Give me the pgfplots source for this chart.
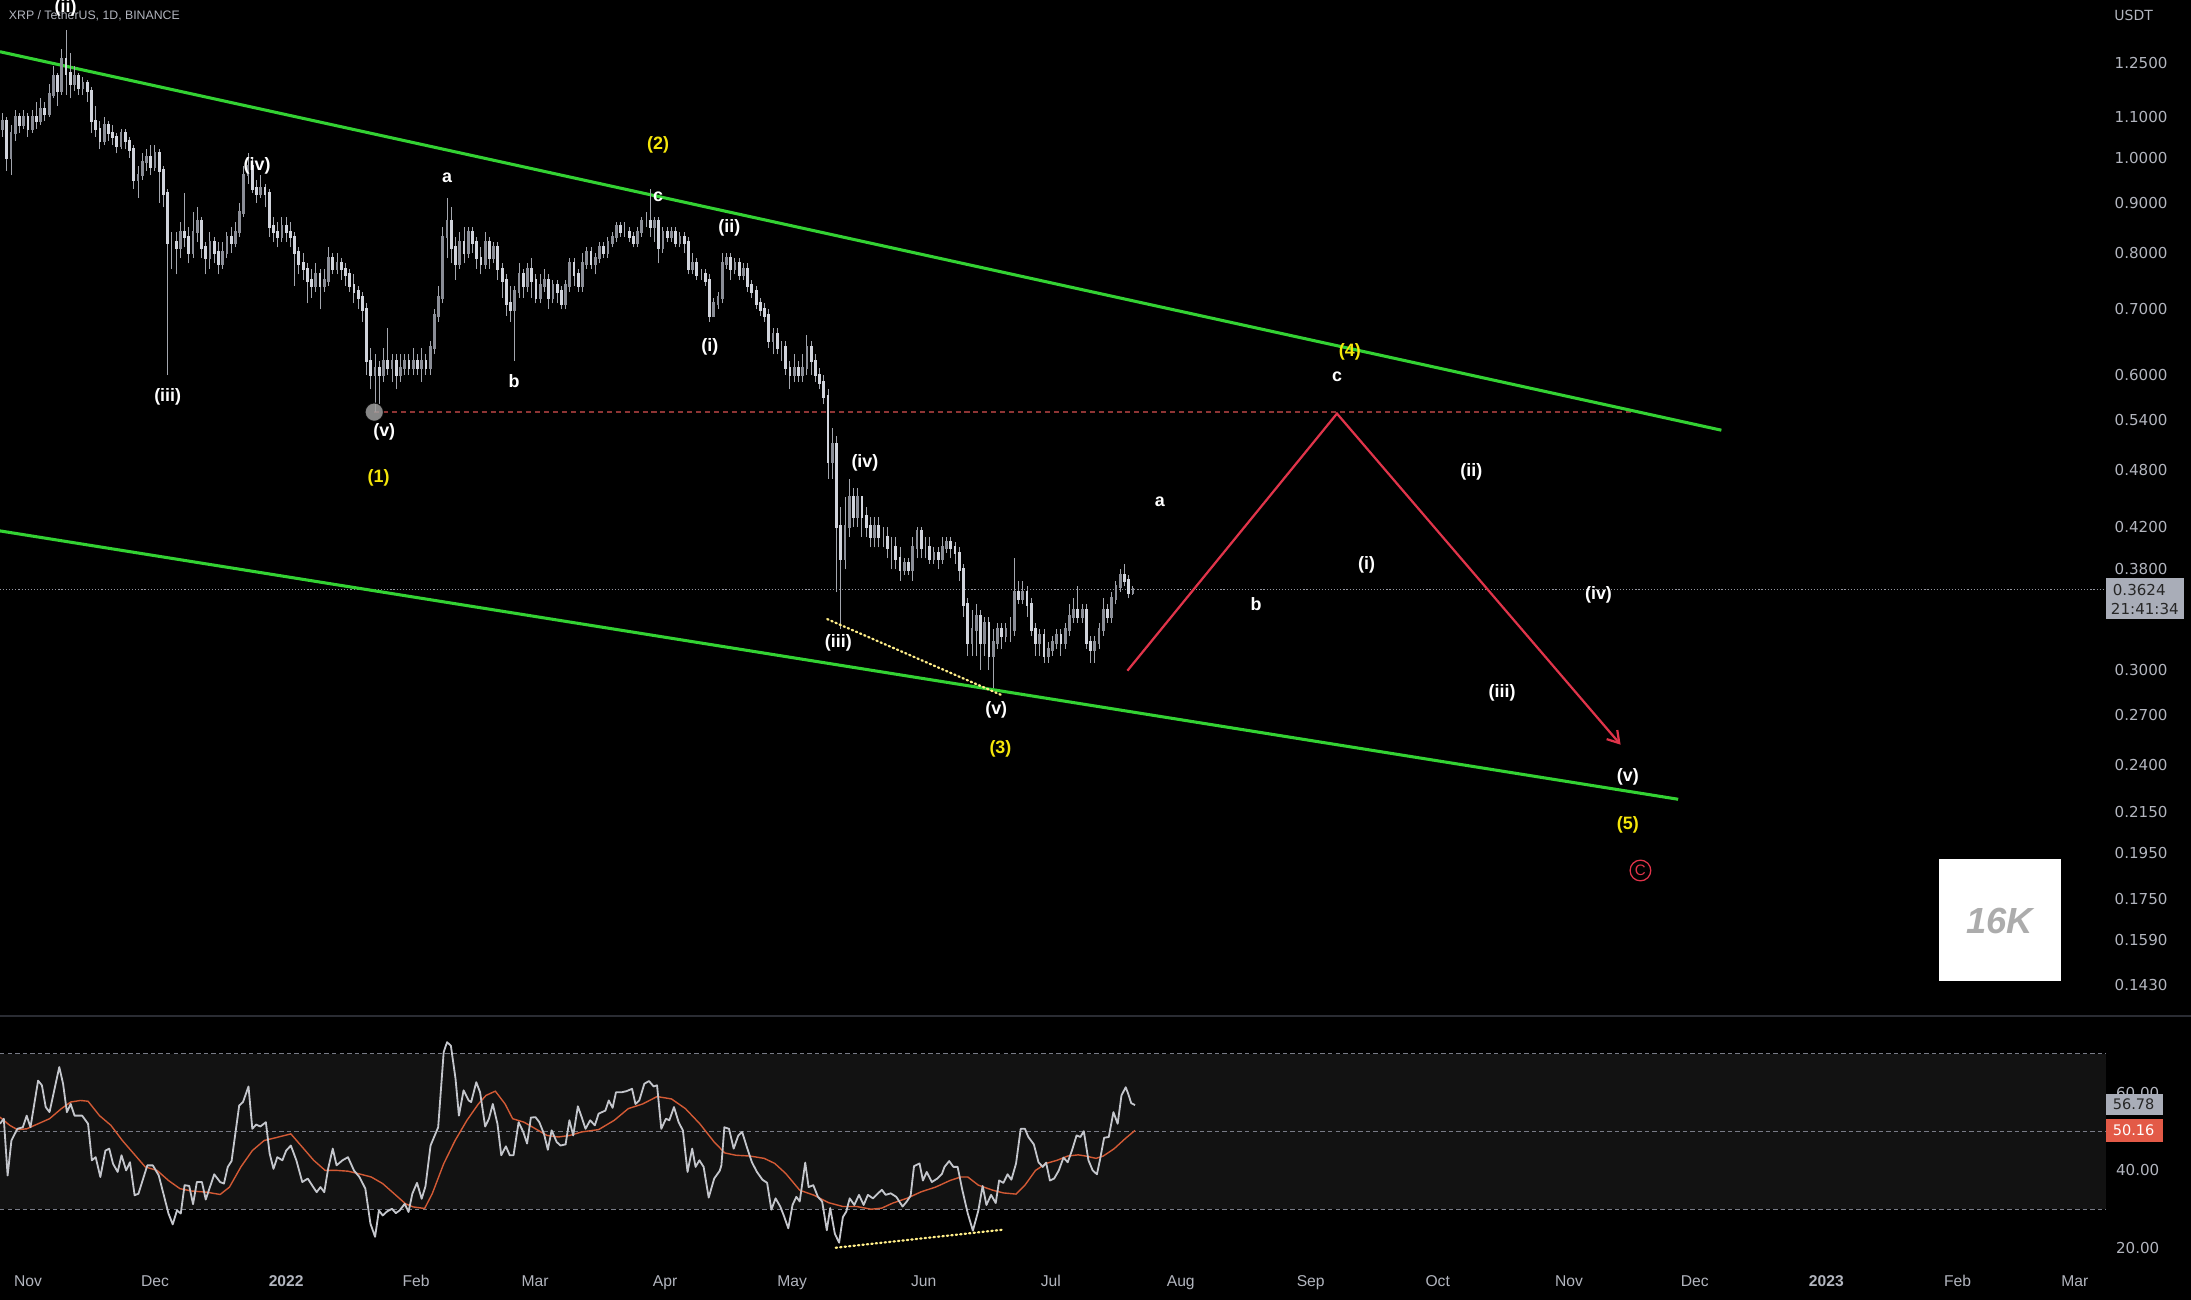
\documentclass[border=0pt]{standalone}
\usepackage{pgfplots}
\pgfplotsset{compat=1.18}
\usepackage{fontspec}
\setmainfont{Liberation Sans}
\newfontfamily\pricefont{DejaVu Sans}
\usetikzlibrary{arrows.meta}
\definecolor{band}{HTML}{121212}
\definecolor{txt}{HTML}{B2B5BE}
\definecolor{chan}{HTML}{33D233}
\definecolor{fc}{HTML}{E0344A}
\definecolor{upc}{HTML}{8A8D96}
\definecolor{dnc}{HTML}{D1D4DC}
\definecolor{wick}{HTML}{A3A6AE}
\definecolor{rsi}{HTML}{C4C6CC}
\definecolor{ma}{HTML}{D35A35}
\definecolor{wy}{HTML}{F5E60A}
\definecolor{dy}{HTML}{FFEE88}
\definecolor{resist}{HTML}{8E3434}
\definecolor{pbox}{HTML}{A9ADB8}
\definecolor{rbox}{HTML}{E35A47}
\definecolor{sepc}{HTML}{2A2C33}
\definecolor{dashc}{HTML}{787B86}
\begin{document}
\begin{tikzpicture}
\path[use as bounding box] (0,0) rectangle (784bp,465bp);
\fill[black] (0,0) rectangle (784bp,465bp);
% ================= PRICE PANEL =================
\begin{axis}[
  at={(0bp,101.5bp)}, anchor=south west,
  width=753.5bp, height=363.5bp, scale only axis,
  xmin=-6.6, xmax=490.8, ymode=log, ymin=0.1330, ymax=1.4490,
  axis line style={draw=none}, tick style={draw=none}, major tick length=0pt, minor tick length=0pt,
  xtick=\empty,
  ytick={0.143,0.159,0.175,0.195,0.215,0.24,0.27,0.3,0.38,0.42,0.48,0.54,0.6,0.7,0.8,0.9,1,1.1,1.25},
  yticklabels={0.1430,0.1590,0.1750,0.1950,0.2150,0.2400,0.2700,0.3000,0.3800,0.4200,0.4800,0.5400,0.6000,0.7000,0.8000,0.9000,1.0000,1.1000,1.2500},
  yticklabel pos=right,
  yticklabel style={anchor=west, xshift=3bp, inner sep=0pt, font=\pricefont\fontsize{5.4bp}{6bp}\selectfont, text=txt},
  unbounded coords=jump,
]
% current price dotted line
\addplot[color=dashc!80!white, line width=0.4bp, dash pattern=on 0.4bp off 0.7bp] coordinates {(-6.6,0.3624)(490.8,0.3624)};
% resistance dashed
\addplot[resist, line width=0.5bp, dash pattern=on 1.8bp off 1.4bp] coordinates {(81.8,0.5499)(379.5,0.5499)};
% channel
\addplot[chan, line width=1.1bp] coordinates {(-6.6,1.283)(400,0.527)};
\addplot[chan, line width=1.1bp] coordinates {(-6.6,0.4159)(389.8,0.2213)};
% wicks
\addplot[wick, line width=0.35bp] coordinates {
(-6,1.05)(-6,1.11)(-6,nan)(-5,0.97)(-5,1.10)(-5,nan)(-4,0.96)(-4,1.08)(-4,nan)(-3,1.04)(-3,1.12)(-3,nan)(-2,1.06)(-2,1.11)(-2,nan)(-1,1.07)(-1,1.12)(-1,nan)
(0,1.05)(0,1.11)(0,nan)(1,1.06)(1,1.12)(1,nan)(2,1.07)(2,1.14)(2,nan)(3,1.08)(3,1.15)(3,nan)(4,1.09)(4,1.14)(4,nan)(5,1.10)(5,1.19)(5,nan)(6,1.15)(6,1.24)(6,nan)(7,1.13)(7,1.22)(7,nan)(8,1.16)(8,1.29)(8,nan)(9,1.16)(9,1.35)(9,nan)
(10,1.15)(10,1.28)(10,nan)(11,1.17)(11,1.24)(11,nan)(12,1.16)(12,1.22)(12,nan)(13,1.16)(13,1.21)(13,nan)(14,1.14)(14,1.20)(14,nan)(15,1.06)(15,1.18)(15,nan)(16,1.05)(16,1.13)(16,nan)(17,1.02)(17,1.09)(17,nan)(18,1.03)(18,1.10)(18,nan)(19,1.04)(19,1.09)(19,nan)
(20,1.03)(20,1.08)(20,nan)(21,1.01)(21,1.06)(21,nan)(22,1.02)(22,1.07)(22,nan)(23,1.02)(23,1.07)(23,nan)(24,1.00)(24,1.05)(24,nan)(25,0.93)(25,1.03)(25,nan)(26,0.91)(26,0.98)(26,nan)(27,0.95)(27,1.01)(27,nan)(28,0.97)(28,1.02)(28,nan)(29,0.96)(29,1.03)(29,nan)
(30,0.97)(30,1.03)(30,nan)(31,0.90)(31,1.02)(31,nan)(32,0.89)(32,0.98)(32,nan)(33,0.60)(33,0.93)(33,nan)(34,0.77)(34,0.84)(34,nan)(35,0.76)(35,0.84)(35,nan)(36,0.79)(36,0.86)(36,nan)(37,0.81)(37,0.92)(37,nan)(38,0.78)(38,0.85)(38,nan)(39,0.79)(39,0.88)(39,nan)
(40,0.82)(40,0.89)(40,nan)(41,0.79)(41,0.87)(41,nan)(42,0.76)(42,0.82)(42,nan)(43,0.77)(43,0.84)(43,nan)(44,0.78)(44,0.83)(44,nan)(45,0.76)(45,0.82)(45,nan)(46,0.77)(46,0.82)(46,nan)(47,0.79)(47,0.84)(47,nan)(48,0.80)(48,0.85)(48,nan)(49,0.81)(49,0.86)(49,nan)
(50,0.83)(50,0.90)(50,nan)(51,0.87)(51,0.98)(51,nan)(52,0.94)(52,1.01)(52,nan)(53,0.92)(53,1.00)(53,nan)(54,0.90)(54,0.95)(54,nan)(55,0.91)(55,0.96)(55,nan)(56,0.89)(56,0.94)(56,nan)(57,0.83)(57,0.93)(57,nan)(58,0.82)(58,0.87)(58,nan)(59,0.81)(59,0.86)(59,nan)
(60,0.82)(60,0.87)(60,nan)(61,0.82)(61,0.87)(61,nan)(62,0.81)(62,0.86)(62,nan)(63,0.74)(63,0.84)(63,nan)(64,0.76)(64,0.81)(64,nan)(65,0.75)(65,0.80)(65,nan)(66,0.71)(66,0.78)(66,nan)(67,0.72)(67,0.77)(67,nan)(68,0.73)(68,0.78)(68,nan)(69,0.70)(69,0.77)(69,nan)
(70,0.73)(70,0.77)(70,nan)(71,0.74)(71,0.81)(71,nan)(72,0.76)(72,0.80)(72,nan)(73,0.76)(73,0.80)(73,nan)(74,0.75)(74,0.79)(74,nan)(75,0.74)(75,0.78)(75,nan)(76,0.73)(76,0.77)(76,nan)(77,0.71)(77,0.76)(77,nan)(78,0.70)(78,0.74)(78,nan)(79,0.68)(79,0.73)(79,nan)
(80,0.60)(80,0.71)(80,nan)(81,0.58)(81,0.64)(81,nan)(82,0.55)(82,0.63)(82,nan)(83,0.56)(83,0.62)(83,nan)(84,0.59)(84,0.64)(84,nan)(85,0.60)(85,0.67)(85,nan)(86,0.59)(86,0.63)(86,nan)(87,0.58)(87,0.63)(87,nan)(88,0.59)(88,0.63)(88,nan)(89,0.60)(89,0.63)(89,nan)
(90,0.60)(90,0.63)(90,nan)(91,0.60)(91,0.64)(91,nan)(92,0.60)(92,0.63)(92,nan)(93,0.59)(93,0.64)(93,nan)(94,0.60)(94,0.63)(94,nan)(95,0.60)(95,0.65)(95,nan)(96,0.63)(96,0.70)(96,nan)(97,0.68)(97,0.74)(97,nan)(98,0.71)(98,0.85)(98,nan)(99,0.79)(99,0.91)(99,nan)
(100,0.78)(100,0.89)(100,nan)(101,0.75)(101,0.83)(101,nan)(102,0.77)(102,0.84)(102,nan)(103,0.78)(103,0.85)(103,nan)(104,0.79)(104,0.85)(104,nan)(105,0.80)(105,0.85)(105,nan)(106,0.77)(106,0.83)(106,nan)(107,0.76)(107,0.81)(107,nan)(108,0.77)(108,0.84)(108,nan)(109,0.77)(109,0.83)(109,nan)
(110,0.78)(110,0.82)(110,nan)(111,0.75)(111,0.82)(111,nan)(112,0.72)(112,0.78)(112,nan)(113,0.69)(113,0.76)(113,nan)(114,0.68)(114,0.74)(114,nan)(115,0.62)(115,0.74)(115,nan)(116,0.72)(116,0.78)(116,nan)(117,0.72)(117,0.77)(117,nan)(118,0.73)(118,0.78)(118,nan)(119,0.72)(119,0.79)(119,nan)
(120,0.71)(120,0.76)(120,nan)(121,0.71)(121,0.76)(121,nan)(122,0.73)(122,0.77)(122,nan)(123,0.70)(123,0.76)(123,nan)(124,0.71)(124,0.75)(124,nan)(125,0.71)(125,0.75)(125,nan)(126,0.70)(126,0.74)(126,nan)(127,0.70)(127,0.75)(127,nan)(128,0.73)(128,0.79)(128,nan)(129,0.74)(129,0.79)(129,nan)
(130,0.73)(130,0.77)(130,nan)(131,0.73)(131,0.80)(131,nan)(132,0.77)(132,0.81)(132,nan)(133,0.77)(133,0.81)(133,nan)(134,0.76)(134,0.80)(134,nan)(135,0.78)(135,0.82)(135,nan)(136,0.79)(136,0.82)(136,nan)(137,0.79)(137,0.83)(137,nan)(138,0.81)(138,0.84)(138,nan)(139,0.82)(139,0.86)(139,nan)
(140,0.83)(140,0.86)(140,nan)(141,0.83)(141,0.86)(141,nan)(142,0.82)(142,0.85)(142,nan)(143,0.81)(143,0.84)(143,nan)(144,0.81)(144,0.85)(144,nan)(145,0.83)(145,0.87)(145,nan)(146,0.85)(146,0.88)(146,nan)(147,0.83)(147,0.93)(147,nan)(148,0.82)(148,0.87)(148,nan)(149,0.78)(149,0.87)(149,nan)
(150,0.80)(150,0.85)(150,nan)(151,0.82)(151,0.85)(151,nan)(152,0.82)(152,0.85)(152,nan)(153,0.81)(153,0.85)(153,nan)(154,0.81)(154,0.84)(154,nan)(155,0.80)(155,0.84)(155,nan)(156,0.76)(156,0.83)(156,nan)(157,0.76)(157,0.80)(157,nan)(158,0.75)(158,0.79)(158,nan)(159,0.75)(159,0.77)(159,nan)
(160,0.74)(160,0.77)(160,nan)(161,0.68)(161,0.76)(161,nan)(162,0.69)(162,0.72)(162,nan)(163,0.70)(163,0.73)(163,nan)(164,0.71)(164,0.80)(164,nan)(165,0.77)(165,0.80)(165,nan)(166,0.75)(166,0.80)(166,nan)(167,0.76)(167,0.79)(167,nan)(168,0.75)(168,0.79)(168,nan)(169,0.75)(169,0.78)(169,nan)
(170,0.73)(170,0.78)(170,nan)(171,0.72)(171,0.75)(171,nan)(172,0.70)(172,0.74)(172,nan)(173,0.69)(173,0.72)(173,nan)(174,0.68)(174,0.71)(174,nan)(175,0.64)(175,0.70)(175,nan)(176,0.63)(176,0.67)(176,nan)(177,0.63)(177,0.67)(177,nan)(178,0.62)(178,0.65)(178,nan)(179,0.60)(179,0.65)(179,nan)
(180,0.58)(180,0.62)(180,nan)(181,0.59)(181,0.63)(181,nan)(182,0.59)(182,0.62)(182,nan)(183,0.59)(183,0.63)(183,nan)(184,0.60)(184,0.66)(184,nan)(185,0.60)(185,0.65)(185,nan)(186,0.59)(186,0.63)(186,nan)(187,0.58)(187,0.61)(187,nan)(188,0.56)(188,0.60)(188,nan)(189,0.47)(189,0.58)(189,nan)
(190,0.47)(190,0.53)(190,nan)(191,0.36)(191,0.52)(191,nan)(192,0.33)(192,0.44)(192,nan)(193,0.38)(193,0.45)(193,nan)(194,0.41)(194,0.47)(194,nan)(195,0.42)(195,0.46)(195,nan)(196,0.42)(196,0.46)(196,nan)(197,0.41)(197,0.45)(197,nan)(198,0.41)(198,0.44)(198,nan)(199,0.40)(199,0.43)(199,nan)
(200,0.40)(200,0.43)(200,nan)(201,0.40)(201,0.43)(201,nan)(202,0.40)(202,0.42)(202,nan)(203,0.39)(203,0.42)(203,nan)(204,0.38)(204,0.41)(204,nan)(205,0.38)(205,0.41)(205,nan)(206,0.37)(206,0.40)(206,nan)(207,0.375)(207,0.39)(207,nan)(208,0.375)(208,0.39)(208,nan)(209,0.37)(209,0.41)(209,nan)
(210,0.39)(210,0.42)(210,nan)(211,0.39)(211,0.42)(211,nan)(212,0.39)(212,0.41)(212,nan)(213,0.385)(213,0.41)(213,nan)(214,0.385)(214,0.40)(214,nan)(215,0.38)(215,0.40)(215,nan)(216,0.385)(216,0.41)(216,nan)(217,0.395)(217,0.41)(217,nan)(218,0.39)(218,0.41)(218,nan)(219,0.385)(219,0.405)(219,nan)
(220,0.37)(220,0.40)(220,nan)(221,0.34)(221,0.385)(221,nan)(222,0.31)(222,0.355)(222,nan)(223,0.31)(223,0.345)(223,nan)(224,0.31)(224,0.35)(224,nan)(225,0.30)(225,0.345)(225,nan)(226,0.31)(226,0.34)(226,nan)(227,0.30)(227,0.34)(227,nan)(228,0.2875)(228,0.33)(228,nan)(229,0.315)(229,0.335)(229,nan)
(230,0.315)(230,0.335)(230,nan)(231,0.32)(231,0.335)(231,nan)(232,0.32)(232,0.34)(232,nan)(233,0.325)(233,0.39)(233,nan)(234,0.35)(234,0.37)(234,nan)(235,0.35)(235,0.37)(235,nan)(236,0.34)(236,0.365)(236,nan)(237,0.325)(237,0.355)(237,nan)(238,0.31)(238,0.335)(238,nan)(239,0.31)(239,0.33)(239,nan)
(240,0.305)(240,0.33)(240,nan)(241,0.305)(241,0.32)(241,nan)(242,0.31)(242,0.325)(242,nan)(243,0.315)(243,0.33)(243,nan)(244,0.31)(244,0.33)(244,nan)(245,0.315)(245,0.335)(245,nan)(246,0.325)(246,0.35)(246,nan)(247,0.335)(247,0.355)(247,nan)(248,0.335)(248,0.365)(248,nan)(249,0.335)(249,0.35)(249,nan)
(250,0.315)(250,0.35)(250,nan)(251,0.305)(251,0.325)(251,nan)(252,0.305)(252,0.325)(252,nan)(253,0.315)(253,0.335)(253,nan)(254,0.325)(254,0.355)(254,nan)(255,0.335)(255,0.35)(255,nan)(256,0.335)(256,0.36)(256,nan)(257,0.35)(257,0.37)(257,nan)(258,0.36)(258,0.38)(258,nan)(259,0.365)(259,0.385)(259,nan)
(260,0.355)(260,0.375)(260,nan)(261,0.358)(261,0.365)
};
% up bodies
\addplot[upc, line width=1.0bp, line cap=rect] coordinates {
(-6,1.07)(-6,1.09)(-6,nan)(-4,1.00)(-4,1.06)(-4,nan)(-3,1.06)(-3,1.10)(-3,nan)(-1,1.08)(-1,1.10)(-1,nan)(1,1.07)(1,1.10)(1,nan)(3,1.09)(3,1.12)(3,nan)(5,1.11)(5,1.16)(5,nan)(6,1.16)(6,1.21)(6,nan)(8,1.17)(8,1.26)(8,nan)(11,1.19)(11,1.21)(11,nan)(13,1.18)(13,1.19)(13,nan)
(18,1.04)(18,1.08)(18,nan)(22,1.03)(22,1.06)(22,nan)(26,0.95)(26,0.96)(26,nan)(27,0.96)(27,0.99)(27,nan)(28,0.99)(28,1.00)(28,nan)(30,0.98)(30,1.01)(30,nan)(36,0.81)(36,0.84)(36,nan)(39,0.80)(39,0.84)(39,nan)(40,0.84)(40,0.86)(40,nan)(43,0.79)(43,0.82)(43,nan)
(46,0.78)(46,0.80)(46,nan)(47,0.80)(47,0.83)(47,nan)(49,0.82)(49,0.84)(49,nan)(50,0.84)(50,0.88)(50,nan)(51,0.88)(51,0.96)(51,nan)(52,0.96)(52,0.98)(52,nan)(55,0.92)(55,0.93)(55,nan)(60,0.83)(60,0.85)(60,nan)(68,0.74)(68,0.76)(68,nan)(70,0.74)(70,0.75)(70,nan)
(71,0.75)(71,0.79)(71,nan)(73,0.77)(73,0.78)(73,nan)(82,0.60)(82,0.61)(82,nan)(84,0.60)(84,0.62)(84,nan)(86,0.61)(86,0.62)(86,nan)(88,0.60)(88,0.61)(88,nan)(89,0.61)(89,0.62)(89,nan)(91,0.61)(91,0.62)(91,nan)(93,0.61)(93,0.62)(93,nan)(95,0.61)(95,0.64)(95,nan)
(96,0.64)(96,0.69)(96,nan)(97,0.69)(97,0.72)(97,nan)(98,0.72)(98,0.83)(98,nan)(99,0.83)(99,0.86)(99,nan)(102,0.78)(102,0.82)(102,nan)(104,0.80)(104,0.84)(104,nan)(108,0.78)(108,0.82)(108,nan)(110,0.79)(110,0.81)(110,nan)(115,0.70)(115,0.73)(115,nan)(116,0.73)(116,0.76)(116,nan)
(118,0.74)(118,0.77)(118,nan)(121,0.72)(121,0.74)(121,nan)(122,0.74)(122,0.75)(122,nan)(124,0.72)(124,0.74)(124,nan)(127,0.71)(127,0.74)(127,nan)(128,0.74)(128,0.78)(128,nan)(131,0.74)(131,0.78)(131,nan)(132,0.78)(132,0.80)(132,nan)(134,0.78)(134,0.79)(134,nan)(135,0.79)(135,0.81)(135,nan)
(137,0.80)(137,0.82)(137,nan)(138,0.82)(138,0.83)(138,nan)(139,0.83)(139,0.85)(139,nan)(144,0.82)(144,0.84)(144,nan)(145,0.84)(145,0.86)(145,nan)(148,0.85)(148,0.86)(148,nan)(150,0.81)(150,0.84)(150,nan)(152,0.83)(152,0.84)(152,nan)(154,0.82)(154,0.83)(154,nan)(157,0.77)(157,0.78)(157,nan)
(162,0.69)(162,0.71)(162,nan)(163,0.71)(163,0.72)(163,nan)(164,0.72)(164,0.78)(164,nan)(165,0.78)(165,0.79)(165,nan)(167,0.77)(167,0.78)(167,nan)(169,0.76)(169,0.77)(169,nan)(176,0.65)(176,0.66)(176,nan)(181,0.60)(181,0.61)(181,nan)(183,0.60)(183,0.61)(183,nan)(184,0.61)(184,0.64)(184,nan)
(190,0.49)(190,0.51)(190,nan)(193,0.39)(193,0.42)(193,nan)(194,0.42)(194,0.45)(194,nan)(196,0.43)(196,0.45)(196,nan)(200,0.41)(200,0.42)(200,nan)(207,0.38)(207,0.385)(207,nan)(209,0.38)(209,0.40)(209,nan)(210,0.40)(210,0.415)(210,nan)(214,0.39)(214,0.395)(214,nan)(216,0.39)(216,0.40)(216,nan)
(217,0.40)(217,0.405)(217,nan)(223,0.32)(223,0.33)(223,nan)(224,0.33)(224,0.34)(224,nan)(226,0.32)(226,0.335)(226,nan)(228,0.31)(228,0.32)(228,nan)(229,0.32)(229,0.33)(229,nan)(231,0.325)(231,0.33)(231,nan)(233,0.33)(233,0.36)(233,nan)(235,0.355)(235,0.36)(235,nan)(239,0.32)(239,0.325)(239,nan)
(241,0.31)(241,0.315)(241,nan)(242,0.315)(242,0.32)(242,nan)(243,0.32)(243,0.325)(243,nan)(245,0.32)(245,0.33)(245,nan)(246,0.33)(246,0.34)(246,nan)(247,0.34)(247,0.345)(247,nan)(249,0.34)(249,0.345)(249,nan)(252,0.315)(252,0.32)(252,nan)(253,0.32)(253,0.33)(253,nan)(254,0.33)(254,0.345)(254,nan)
(256,0.34)(256,0.355)(256,nan)(257,0.355)(257,0.365)(257,nan)(258,0.365)(258,0.375)(258,nan)(261,0.36)(261,0.3624)
};
% down bodies
\addplot[dnc, line width=1.0bp, line cap=rect] coordinates {
(-5,1.09)(-5,1.00)(-5,nan)(-2,1.10)(-2,1.08)(-2,nan)(0,1.10)(0,1.07)(0,nan)(2,1.10)(2,1.09)(2,nan)(4,1.12)(4,1.11)(4,nan)(7,1.21)(7,1.17)(7,nan)(9,1.26)(9,1.22)(9,nan)(10,1.22)(10,1.19)(10,nan)(12,1.21)(12,1.18)(12,nan)(14,1.19)(14,1.17)(14,nan)
(15,1.17)(15,1.09)(15,nan)(16,1.09)(16,1.07)(16,nan)(17,1.07)(17,1.04)(17,nan)(19,1.08)(19,1.06)(19,nan)(20,1.06)(20,1.05)(20,nan)(21,1.05)(21,1.03)(21,nan)(23,1.06)(23,1.04)(23,nan)(24,1.04)(24,1.02)(24,nan)(25,1.02)(25,0.95)(25,nan)(29,1.00)(29,0.98)(29,nan)
(31,1.01)(31,0.97)(31,nan)(32,0.97)(32,0.92)(32,nan)(33,0.92)(33,0.82)(33,nan)(34,0.82)(34,0.82)(34,nan)(35,0.82)(35,0.81)(35,nan)(37,0.84)(37,0.83)(37,nan)(38,0.83)(38,0.80)(38,nan)(41,0.86)(41,0.81)(41,nan)(42,0.81)(42,0.79)(42,nan)(44,0.82)(44,0.80)(44,nan)
(45,0.80)(45,0.78)(45,nan)(48,0.83)(48,0.82)(48,nan)(53,0.98)(53,0.93)(53,nan)(54,0.93)(54,0.92)(54,nan)(56,0.93)(56,0.92)(56,nan)(57,0.92)(57,0.85)(57,nan)(58,0.85)(58,0.84)(58,nan)(59,0.84)(59,0.83)(59,nan)(61,0.85)(61,0.84)(61,nan)(62,0.84)(62,0.83)(62,nan)
(63,0.83)(63,0.80)(63,nan)(64,0.80)(64,0.78)(64,nan)(65,0.78)(65,0.77)(65,nan)(66,0.77)(66,0.75)(66,nan)(67,0.75)(67,0.74)(67,nan)(69,0.76)(69,0.74)(69,nan)(72,0.79)(72,0.77)(72,nan)(74,0.78)(74,0.77)(74,nan)(75,0.77)(75,0.76)(75,nan)(76,0.76)(76,0.74)(76,nan)
(77,0.74)(77,0.73)(77,nan)(78,0.73)(78,0.72)(78,nan)(79,0.72)(79,0.70)(79,nan)(80,0.70)(80,0.62)(80,nan)(81,0.62)(81,0.60)(81,nan)(83,0.61)(83,0.60)(83,nan)(85,0.62)(85,0.61)(85,nan)(87,0.62)(87,0.60)(87,nan)(90,0.62)(90,0.61)(90,nan)(92,0.62)(92,0.61)(92,nan)
(94,0.62)(94,0.61)(94,nan)(100,0.86)(100,0.81)(100,nan)(101,0.81)(101,0.78)(101,nan)(103,0.82)(103,0.80)(103,nan)(105,0.84)(105,0.82)(105,nan)(106,0.82)(106,0.79)(106,nan)(107,0.79)(107,0.78)(107,nan)(109,0.82)(109,0.79)(109,nan)(111,0.81)(111,0.77)(111,nan)(112,0.77)(112,0.75)(112,nan)
(113,0.75)(113,0.71)(113,nan)(114,0.71)(114,0.70)(114,nan)(117,0.76)(117,0.74)(117,nan)(119,0.77)(119,0.75)(119,nan)(120,0.75)(120,0.72)(120,nan)(123,0.75)(123,0.72)(123,nan)(125,0.74)(125,0.73)(125,nan)(126,0.73)(126,0.71)(126,nan)(129,0.78)(129,0.76)(129,nan)(130,0.76)(130,0.74)(130,nan)
(133,0.80)(133,0.78)(133,nan)(136,0.81)(136,0.80)(136,nan)(140,0.85)(140,0.84)(140,nan)(141,0.84)(141,0.84)(141,nan)(142,0.84)(142,0.83)(142,nan)(143,0.83)(143,0.82)(143,nan)(146,0.86)(146,0.86)(146,nan)(147,0.86)(147,0.85)(147,nan)(149,0.86)(149,0.81)(149,nan)(151,0.84)(151,0.83)(151,nan)
(153,0.84)(153,0.82)(153,nan)(155,0.83)(155,0.82)(155,nan)(156,0.82)(156,0.77)(156,nan)(158,0.78)(158,0.76)(158,nan)(159,0.76)(159,0.76)(159,nan)(160,0.76)(160,0.75)(160,nan)(161,0.75)(161,0.69)(161,nan)(166,0.79)(166,0.77)(166,nan)(168,0.78)(168,0.76)(168,nan)(170,0.77)(170,0.74)(170,nan)
(171,0.74)(171,0.73)(171,nan)(172,0.73)(172,0.71)(172,nan)(173,0.71)(173,0.70)(173,nan)(174,0.70)(174,0.69)(174,nan)(175,0.69)(175,0.65)(175,nan)(177,0.66)(177,0.64)(177,nan)(178,0.64)(178,0.64)(178,nan)(179,0.64)(179,0.61)(179,nan)(180,0.61)(180,0.60)(180,nan)(182,0.61)(182,0.60)(182,nan)
(185,0.64)(185,0.62)(185,nan)(186,0.62)(186,0.60)(186,nan)(187,0.60)(187,0.59)(187,nan)(188,0.59)(188,0.57)(188,nan)(189,0.57)(189,0.49)(189,nan)(191,0.51)(191,0.42)(191,nan)(192,0.42)(192,0.39)(192,nan)(195,0.45)(195,0.43)(195,nan)(197,0.45)(197,0.43)(197,nan)(198,0.43)(198,0.42)(198,nan)
(199,0.42)(199,0.41)(199,nan)(201,0.42)(201,0.41)(201,nan)(202,0.41)(202,0.41)(202,nan)(203,0.41)(203,0.40)(203,nan)(204,0.40)(204,0.40)(204,nan)(205,0.40)(205,0.39)(205,nan)(206,0.39)(206,0.38)(206,nan)(208,0.385)(208,0.38)(208,nan)(211,0.415)(211,0.40)(211,nan)(212,0.40)(212,0.40)(212,nan)
(213,0.40)(213,0.39)(213,nan)(215,0.395)(215,0.39)(215,nan)(218,0.405)(218,0.40)(218,nan)(219,0.40)(219,0.395)(219,nan)(220,0.395)(220,0.38)(220,nan)(221,0.38)(221,0.35)(221,nan)(222,0.35)(222,0.32)(222,nan)(225,0.34)(225,0.32)(225,nan)(227,0.335)(227,0.31)(227,nan)(230,0.33)(230,0.325)(230,nan)
(232,0.33)(232,0.33)(232,nan)(234,0.36)(234,0.355)(234,nan)(236,0.36)(236,0.35)(236,nan)(237,0.35)(237,0.33)(237,nan)(238,0.33)(238,0.32)(238,nan)(240,0.325)(240,0.31)(240,nan)(244,0.325)(244,0.32)(244,nan)(248,0.345)(248,0.34)(248,nan)(250,0.345)(250,0.32)(250,nan)(251,0.32)(251,0.315)(251,nan)
(255,0.345)(255,0.34)(255,nan)(259,0.375)(259,0.37)(259,nan)(260,0.37)(260,0.36)
};
% marker circle at wave (1) low
\addplot[only marks, mark=*, mark size=3.3bp, mark options={fill=gray!75, draw=none, opacity=0.85}] coordinates {(81.8,0.5499)};
% yellow dotted divergence line
\addplot[dy, line width=0.8bp, dash pattern=on 0.5bp off 1.1bp, line cap=round] coordinates {(188.8,0.338)(230.4,0.2822)};
% forecast path
\addplot[fc, line width=0.8bp, -{Straight Barb[length=4bp,width=5bp]}] coordinates {(259.7,0.2994)(309.2,0.548)(376.2,0.2516)};
\end{axis}
% ================= RSI PANEL =================
\begin{axis}[
  at={(0bp,12.5bp)}, anchor=south west,
  width=753.5bp, height=88.5bp, scale only axis,
  xmin=-6.6, xmax=490.8, ymin=15.76, ymax=79.42,
  axis line style={draw=none}, tick style={draw=none}, major tick length=0pt,
  ytick={20,40,60}, yticklabels={20.00,40.00,60.00},
  yticklabel pos=right,
  yticklabel style={anchor=west, xshift=3.5bp, inner sep=0pt, font=\pricefont\fontsize{5.4bp}{6bp}\selectfont, text=txt},
  xtick={0,30,61,91.7,119.8,150.5,180.5,211.6,241.6,272.3,303,333,364,393.7,424.8,455.8,483.5},
  xticklabels={Nov,Dec,\textbf{2022},Feb,Mar,Apr,May,Jun,Jul,Aug,Sep,Oct,Nov,Dec,\textbf{2023},Feb,Mar},
  xticklabel style={anchor=base, yshift=-7.8bp, inner sep=0pt, font=\fontsize{5.6bp}{6bp}\selectfont, text=txt},
]
\addplot[draw=none, fill=band] coordinates {(-6.6,30)(490.8,30)(490.8,70)(-6.6,70)} -- cycle;
\addplot[dashc, line width=0.45bp, dash pattern=on 1.6bp off 1.1bp] coordinates {(-6.6,70)(490.8,70)};
\addplot[dashc, line width=0.45bp, dash pattern=on 1.6bp off 1.1bp] coordinates {(-6.6,50)(490.8,50)};
\addplot[dashc, line width=0.45bp, dash pattern=on 1.6bp off 1.1bp] coordinates {(-6.6,30)(490.8,30)};
% RSI MA
\addplot[ma, line width=0.5bp] coordinates {
(-6.6,53.7)(-4.3,51.6)(-2.5,50.5)(-0.3,50.7)(2.4,52)(5.1,53.3)(7.9,55.9)(10.1,57.6)(12.4,58)(14.2,57.8)(16.9,54.1)(19.6,51.6)(22.3,47.7)(25,44.3)(27.7,40.9)(30.5,40)(33.2,37.4)(35.9,35.3)(38.6,34.7)(42.2,34.4)(45.4,33.8)(47.6,35.7)(50.3,40.9)(53,45.1)(55.8,47.7)(58.5,48.4)(62.1,49.4)(64.8,46)(67.5,42.6)(70.2,40)(72.9,40)(75.6,39.8)(78.3,39.1)(81.1,38.3)(83.8,36.6)(86.5,34)(89.2,31.4)(91,30.6)(93.7,30.2)(95.5,34)(98.2,41.7)(100.9,47.7)(103.7,52.9)(106.4,57.1)(108.2,59.3)(110.4,60.4)(112.7,57.1)(114.5,53.3)(117.2,52.4)(119.9,50.7)(122.6,49)(125.3,48.6)(128,49)(130.8,49.9)(134.8,50.5)(138.5,52.9)(141.8,55.9)(145.2,57.1)(148.6,59)(152,58.4)(155.3,55.9)(158.7,52)(162.1,47.3)(164.6,44.5)(167.2,43.9)(170.5,43.7)(173.9,43.1)(176.4,41.8)(179,39.2)(182.3,34.9)(185.7,33.6)(189.1,31.7)(192.5,30.7)(195.8,30.7)(199.2,30)(201.7,30.3)(204.3,31.6)(207.6,32.8)(211,34.5)(214.4,35.7)(217.8,37.4)(220.3,38.3)(222,38.3)(224.5,36.2)(227.9,34.9)(230.4,34.2)(233.4,33.9)(235.5,36.2)(238,40)(240.5,41.8)(243.1,42.6)(245.6,43.7)(248.1,44)(249.8,43.7)(252.3,43.1)(254,43.7)(256.6,45.6)(259.1,48.1)(261.5,50.3)
};
% RSI
\addplot[rsi, line width=0.65bp, line join=round] coordinates {
(-6.6,52)(-5.7,53.3)(-4.8,38.7)(-3.9,47.7)(-2.5,50.7)(-1.2,51.1)(-0.3,54.1)(0.6,51.1)(2.4,63.1)(3.3,61.9)(4.2,56.3)(5.1,55)(7.4,66.6)(8.3,62.3)(9.2,55)(10.1,57.1)(11,54.1)(12.8,54.1)(14.2,52)(15.1,42.6)(16,43.4)(17.1,38.3)(18.3,45.1)(19.2,45.6)(20.1,41.7)(21.2,39.6)(22.1,43.9)(23.2,40)(24.1,42.1)(25.2,33.6)(26.1,34)(28.2,41.3)(29.5,41.3)(30.9,38.7)(33.2,28.9)(34.2,26.1)(35.2,29.7)(36.1,28.9)(37,36.2)(38.1,36)(39,31.3)(39.9,37)(41.1,37)(42,32.5)(44,39)(45.4,37)(46.3,36.6)(47.2,40.9)(48.1,42.4)(49.9,56.7)(50.8,57.6)(52.1,61.6)(53,50.7)(53.9,51.8)(54.9,51.3)(56.2,52.4)(57.1,44.3)(58,40.4)(58.9,43.4)(60.1,42.6)(61,45.1)(62.1,46.4)(63.4,42.6)(64.8,37)(66.1,37.9)(67.1,36.2)(68.2,34.4)(69.1,35.7)(70,34.4)(70.9,40.4)(72,45.6)(72.9,41.3)(74.3,42.6)(75.6,43.4)(77,40)(78.3,38.3)(79.7,35.3)(80.9,26.3)(82,22.9)(82.9,29.7)(83.8,28.4)(84.9,29.5)(86,30.1)(86.9,29)(87.8,29.7)(89,31.4)(89.9,29.3)(90.8,34)(91.9,36.8)(93,32.7)(93.9,35.9)(95.1,46.4)(96.9,51.1)(98.2,70.4)(99,73)(99.9,72.1)(101,63.6)(101.8,54.1)(102.9,60.6)(104.1,58)(104.7,57.6)(105.9,62.7)(106.8,60.1)(108,51.3)(108.9,53.3)(109.8,57.1)(110.9,52)(111.8,43.9)(112.9,46.2)(113.8,43.9)(114.7,43.9)(115.9,52.4)(117,49.9)(117.9,46.9)(118.8,53.6)(119.9,53.7)(120.8,52.4)(121.9,49.4)(122.8,45.3)(123.7,50.3)(124.9,47.3)(125.8,46.4)(127,46.7)(127.9,52.9)(128.8,49)(129.9,56.5)(130.8,53.7)(131.7,50.7)(132.8,52.9)(133.9,51.6)(134.8,54.6)(136.4,55.4)(137.2,58)(138.1,56.1)(138.9,60.1)(140.2,60.1)(141.4,60.4)(142.7,61)(143.5,57.1)(144.4,58)(145.6,62.3)(146.7,63)(147.8,61.6)(148.6,61.9)(149.6,50.7)(150.7,53.3)(151.5,52.9)(152.6,56.3)(153.7,52.4)(154.7,50.3)(155.8,39.6)(156.9,45.6)(157.7,40.9)(158.6,42.6)(159.6,40.9)(160.8,33)(162.1,37.9)(163.4,39.9)(163.8,41.3)(164.5,51.1)(165.6,50.7)(166.7,45.6)(167.8,49)(168.7,49.9)(169.7,46.4)(171,42.1)(172.2,39.6)(173.5,37.6)(174.6,36.8)(175.6,29.9)(176.6,32.8)(177.7,30.7)(178.5,28.5)(179.6,25.1)(180.6,31.1)(181.5,33.2)(182.3,32)(183.6,42)(184.4,35.7)(185.5,36.2)(186.6,33.2)(187.6,32)(188.7,24.6)(189.5,30.3)(190.6,23.7)(191.6,21.4)(192.5,28)(193.3,29.4)(194.1,32.8)(195.2,31.1)(196.3,33.7)(197.4,31.1)(198.4,33.7)(199.6,32.8)(200.7,34)(201.7,35)(202.6,33.7)(203.8,34.1)(205.1,33.2)(206.6,30.7)(207.6,32)(208.5,33.5)(209.3,41.1)(210.6,41.8)(211.4,37.4)(212.3,39.6)(213.5,37)(214.8,37.9)(215.9,39.1)(216.5,40.9)(217.6,42.4)(218.6,40.9)(219.6,40.9)(220.7,35)(222,28.9)(223.2,24.5)(224.5,29.7)(225.5,36)(226.4,31.1)(227.5,33.7)(228.6,31.6)(229.4,37.4)(230.4,36.8)(231.4,39)(232.3,37.6)(233.4,41.8)(234.5,50.7)(235.5,50.7)(236.3,48.6)(237.6,46.7)(238.7,42.1)(239.7,40.9)(240.5,42)(241.4,37.4)(242.4,37.9)(243.5,40)(244.6,43.3)(245.6,42.1)(246.6,45.1)(247.7,49)(248.6,48.6)(249.4,50.1)(250.5,42.6)(251.5,40)(252.5,39)(253.2,42.6)(254.2,48.4)(255.3,48.6)(256.4,55)(257.4,52)(258.3,59.3)(259.3,61.4)(259.9,59.7)(260.6,57.3)(261.5,56.8)
};
\addplot[dy, line width=0.8bp, dash pattern=on 0.5bp off 1.1bp, line cap=round] coordinates {(190.8,20.1)(230.4,24.75)};
\end{axis}
% ================= OVERLAYS (pixel frame of the 1568x930 view) =================
\begin{scope}[x=0.5bp, y=-0.5bp, yshift=465bp]
\draw[sepc, line width=0.6bp] (0,727) -- (1568,727);
\tikzset{wl/.style={text=white, inner sep=0pt, font=\bfseries\fontsize{6.4bp}{7bp}\selectfont},
         yl/.style={wl, text=wy}}
\node[anchor=west, text=txt, inner sep=0pt, font=\fontsize{4.4bp}{5bp}\selectfont] at (6,11) {XRP / TetherUS, 1D, BINANCE};
\node[text=txt, inner sep=0pt, font=\pricefont\fontsize{5bp}{6bp}\selectfont] at (1527,11) {USDT};
\node[wl] at (47,6) {(ii)};
\node[wl] at (120,284) {(iii)};
\node[wl] at (184,119) {(iv)};
\node[wl] at (275,309) {(v)};
\node[yl] at (271,342) {(1)};
\node[wl] at (320,127) {a};
\node[wl] at (368,273) {b};
\node[yl] at (471,104) {(2)};
\node[wl] at (471,141) {c};
\node[wl] at (522,163) {(ii)};
\node[wl] at (508,248) {(i)};
\node[wl] at (619,331) {(iv)};
\node[wl] at (600,460) {(iii)};
\node[wl] at (713,508) {(v)};
\node[yl] at (716,536) {(3)};
\node[wl] at (830,359) {a};
\node[wl] at (899,432) {b};
\node[wl] at (957,270) {c};
\node[yl] at (966,252) {(4)};
\node[wl] at (978,404) {(i)};
\node[wl] at (1053,338) {(ii)};
\node[wl] at (1075,496) {(iii)};
\node[wl] at (1144,426) {(iv)};
\node[wl] at (1165,556) {(v)};
\node[yl] at (1165,590) {(5)};
\node[circle, draw=fc, line width=0.45bp, text=fc, inner sep=0pt, minimum size=7.4bp, font=\fontsize{5.4bp}{6bp}\selectfont] at (1174,623) {C};
% logo
\fill[white] (1388,615) rectangle (1475,702);
\node[text=gray!65, font=\bfseries\itshape\fontsize{13bp}{14bp}\selectfont] at (1431,659) {16K};
% current price box
\fill[pbox] (1507,414) rectangle (1563,443);
\node[text=black!85, inner sep=0pt, font=\pricefont\fontsize{5.4bp}{6bp}\selectfont] at (1531,422) {0.3624};
\node[text=black!85, inner sep=0pt, font=\pricefont\fontsize{5.4bp}{6bp}\selectfont] at (1535,436) {21:41:34};
% RSI value boxes
\fill[pbox] (1507,783) rectangle (1548,798);
\node[text=black!85, inner sep=0pt, font=\pricefont\fontsize{5.2bp}{6bp}\selectfont] at (1527,790.5) {56.78};
\fill[rbox] (1507,801) rectangle (1548,817);
\node[text=white, inner sep=0pt, font=\pricefont\fontsize{5.2bp}{6bp}\selectfont] at (1527,809) {50.16};
\end{scope}
\end{tikzpicture}
\end{document}
